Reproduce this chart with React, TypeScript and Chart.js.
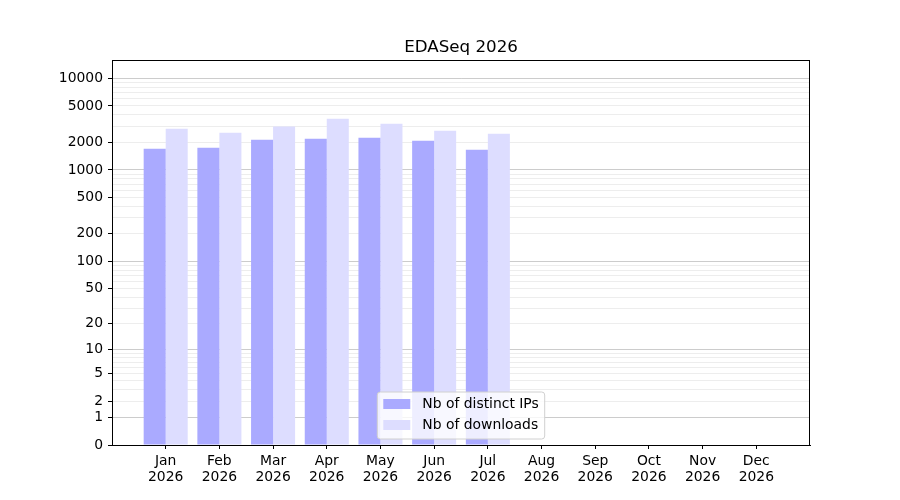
import { Chart, registerables } from 'chart.js';
import { useEffect, useRef } from 'react';

Chart.register(...registerables);

const months = ['Jan', 'Feb', 'Mar', 'Apr', 'May', 'Jun', 'Jul', 'Aug', 'Sep', 'Oct', 'Nov', 'Dec'];
const year = '2026';
const chartTitle = 'EDASeq 2026';
const distinctIPs = [1704, 1748, 2134, 2189, 2244, 2081, 1662];
const downloads = [2812, 2544, 2979, 3611, 3187, 2675, 2481];
const yTickLabels = [0, 1, 2, 5, 10, 20, 50, 100, 200, 500, 1000, 2000, 5000, 10000];
const seriesNames = ['Nb of distinct IPs', 'Nb of downloads'];
const seriesColors = ['#aaaaff', '#ddddff'];

const FONT = '"DejaVu Sans", sans-serif';
const FS = 13.9;

// symlog-ish axis: position = log10(1 + v)
const tr = (v: number) => Math.log10(1 + v);

// gridlines at 0, 1..9, 10..90, ... , 10000
const gridValues: number[] = [0];
for (const d of [1, 10, 100, 1000]) {
    for (let k = 1; k <= 9; k++) gridValues.push(k * d);
}
gridValues.push(10000);

const isMajor = (v: number) => v > 0 && Math.abs(Math.log10(v) % 1) < 1e-9;

const pad = (arr: number[]) => {
    const out: (number | null)[] = [null];
    for (let i = 0; i < months.length; i++) out.push(i < arr.length ? tr(arr[i]) : null);
    out.push(null);
    return out;
};

const framePlugin = {
    id: 'frameTitleLegend',
    afterDraw(chart: any) {
        const { ctx, chartArea } = chart;
        const { left, right, top, bottom } = chartArea;
        ctx.save();
        // box around axes
        ctx.strokeStyle = '#000';
        ctx.lineWidth = 1;
        ctx.strokeRect(left + 0.5, top + 0.5, right - left - 1, bottom - top);

        // title
        ctx.fillStyle = '#000';
        ctx.font = `16.7px ${FONT}`;
        ctx.textAlign = 'center';
        ctx.textBaseline = 'alphabetic';
        ctx.fillText(chartTitle, (left + right) / 2, top - 8);

        // legend, lower center
        ctx.font = `${FS}px ${FONT}`;
        const textW = Math.max(...seriesNames.map((s) => ctx.measureText(s).width));
        const boxW = 6 + 27 + 12 + textW + 6;
        const boxH = 47;
        const bx = (left + right) / 2 - boxW / 2;
        const by = bottom - 6 - boxH;
        ctx.beginPath();
        if (ctx.roundRect) ctx.roundRect(bx, by, boxW, boxH, 3);
        else ctx.rect(bx, by, boxW, boxH);
        ctx.fillStyle = 'rgba(255,255,255,0.8)';
        ctx.fill();
        ctx.strokeStyle = '#d0d0d0';
        ctx.stroke();
        ctx.textAlign = 'left';
        ctx.textBaseline = 'middle';
        seriesNames.forEach((name, i) => {
            const cy = by + 12 + i * 21;
            ctx.fillStyle = seriesColors[i];
            ctx.fillRect(bx + 6, cy - 5, 27, 10);
            ctx.fillStyle = '#000';
            ctx.fillText(name, bx + 6 + 27 + 12, cy);
        });
        ctx.restore();
    },
};

const App = () => {
    const chartRef = useRef<HTMLCanvasElement>(null);

    useEffect(() => {
        if (!chartRef.current) return;
        Chart.defaults.font.family = FONT;
        Chart.defaults.color = '#000';

        const labels: (string | string[])[] = ['', ...months.map((m) => [m, year]), ''];

        const chart = new Chart(chartRef.current, {
            type: 'bar',
            data: {
                labels,
                datasets: [
                    {
                        label: seriesNames[0],
                        data: pad(distinctIPs),
                        backgroundColor: seriesColors[0],
                        borderWidth: 0,
                        barPercentage: 1,
                        categoryPercentage: 0.82,
                    },
                    {
                        label: seriesNames[1],
                        data: pad(downloads),
                        backgroundColor: seriesColors[1],
                        borderWidth: 0,
                        barPercentage: 1,
                        categoryPercentage: 0.82,
                    },
                ],
            },
            options: {
                animation: false,
                responsive: true,
                maintainAspectRatio: false,
                layout: { padding: { left: 0, right: 90, top: 60, bottom: 0 } },
                plugins: {
                    legend: { display: false },
                    tooltip: { enabled: false },
                    title: { display: false },
                },
                scales: {
                    x: {
                        type: 'category',
                        offset: false,
                        afterFit: (scale: any) => {
                            scale.height = 55;
                        },
                        grid: {
                            display: true,
                            offset: false,
                            drawOnChartArea: false,
                            drawTicks: true,
                            tickLength: 4,
                            tickColor: (c: any) =>
                                c.index === 0 || c.index === months.length + 1 ? 'rgba(0,0,0,0)' : '#000',
                        },
                        border: { display: true, color: '#000', width: 1 },
                        ticks: {
                            autoSkip: false,
                            maxRotation: 0,
                            minRotation: 0,
                            color: '#000',
                            padding: 5,
                            font: { size: FS, lineHeight: 1.1 },
                        },
                    },
                    y: {
                        type: 'linear',
                        min: 0,
                        max: 4.2,
                        z: 1,
                        afterFit: (scale: any) => {
                            scale.width = 112;
                        },
                        afterBuildTicks: (scale: any) => {
                            scale.ticks = gridValues.map((v) => ({ value: tr(v) }));
                        },
                        grid: {
                            lineWidth: 1,
                            tickLength: 4,
                            color: (c: any) => {
                                const v = gridValues[c.index];
                                if (v === undefined || v === 0) return 'rgba(0,0,0,0)';
                                return isMajor(v) ? 'rgba(0,0,0,0.2)' : 'rgba(0,0,0,0.07)';
                            },
                            tickColor: (c: any) =>
                                yTickLabels.includes(gridValues[c.index]) ? '#000' : 'rgba(0,0,0,0)',
                        },
                        border: { display: true, color: '#000', width: 1 },
                        ticks: {
                            autoSkip: false,
                            color: '#000',
                            padding: 5,
                            font: { size: FS },
                            callback: (_val: any, index: number) => {
                                const v = gridValues[index];
                                return yTickLabels.includes(v) ? String(v) : '';
                            },
                        },
                    },
                },
            },
            plugins: [framePlugin],
        });

        return () => {
            chart.destroy();
        };
    }, []);

    return (
        <div style={{ position: 'fixed', left: 0, top: 0, width: 900, height: 500, background: '#fff' }}>
            <canvas ref={chartRef}></canvas>
        </div>
    );
};

export default App;
